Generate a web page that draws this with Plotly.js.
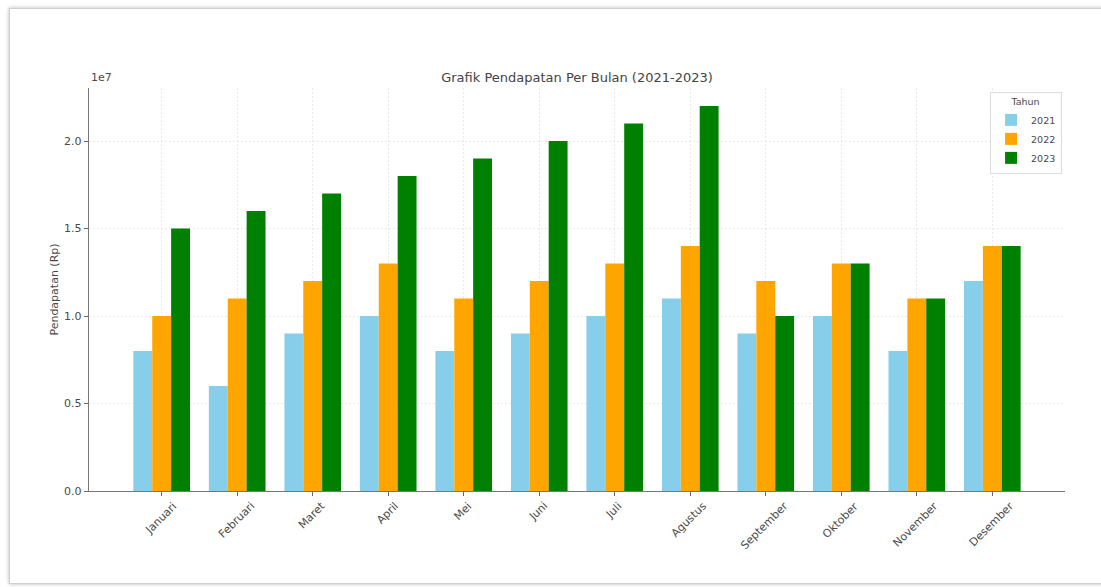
<!DOCTYPE html>
<html>
<head>
<meta charset="utf-8">
<script src="https://cdn.plot.ly/plotly-3.0.1.min.js"></script>
<style>
  html, body { margin: 0; padding: 0; background: #fff; }
  #wrap { position: relative; width: 1101px; height: 587px; overflow: hidden; }
  #chart { position: absolute; left: 0; top: 0; width: 1101px; height: 587px; }
  #frame { position: absolute; left: 9px; top: 8px; width: 1200px; height: 574px;
           border: 1px solid #cfcfcf; box-shadow: 0 0 4px rgba(0,0,0,0.28); pointer-events: none; }
</style>
</head>
<body>
<div id="wrap">
  <div id="chart"></div>
  <div id="frame"></div>
</div>
<script>
const months = ["Januari","Februari","Maret","April","Mei","Juni","Juli","Agustus","September","Oktober","November","Desember"];
const years = ["2021","2022","2023"];
const values2021 = [8e6, 6e6, 9e6, 10e6, 8e6, 9e6, 10e6, 11e6, 9e6, 10e6, 8e6, 12e6];
const values2022 = [10e6, 11e6, 12e6, 13e6, 11e6, 12e6, 13e6, 14e6, 12e6, 13e6, 11e6, 14e6];
const values2023 = [15e6, 16e6, 17e6, 18e6, 19e6, 20e6, 21e6, 22e6, 10e6, 13e6, 11e6, 14e6];
const yTickVals = [0, 5e6, 10e6, 15e6, 20e6];
const yTickText = ["0.0", "0.5", "1.0", "1.5", "2.0"];
const colors = ["#87CEEB", "#FFA500", "#008000"];

const series = [values2021, values2022, values2023];
const font = "DejaVu Sans, Verdana, sans-serif";
const txt = "#4a4a4a";

const data = series.map((vals, i) => ({
  type: "bar",
  name: years[i],
  x: months,
  y: vals,
  marker: { color: colors[i], line: { width: 0 } },
  hoverinfo: "x+y+name"
}));

const annotations = months.map(m => ({
  x: m, xref: "x", y: -6 / 403, yref: "paper",
  text: m, showarrow: false, textangle: -45,
  xanchor: "center", yanchor: "top", xshift: -1,
  font: { family: font, size: 11, color: txt }
}));

annotations.push({
  x: 0, xref: "paper", y: 1, yref: "paper", yshift: 2,
  text: "1e7", showarrow: false, xanchor: "left", yanchor: "bottom",
  font: { family: font, size: 11, color: txt }
});

const layout = {
  width: 1101, height: 587,
  margin: { l: 89, r: 36, t: 88, b: 96 },
  paper_bgcolor: "rgba(0,0,0,0)",
  plot_bgcolor: "#fff",
  font: { family: font, size: 11, color: txt },
  title: {
    text: "Grafik Pendapatan Per Bulan (2021-2023)",
    x: 0.5, xref: "paper", xanchor: "center",
    y: 1, yref: "paper", yanchor: "bottom", pad: { b: 6 },
    font: { family: font, size: 13, color: "#444" }
  },
  barmode: "group",
  bargap: 0.25,
  bargroupgap: 0,
  xaxis: {
    type: "category",
    range: [-0.9625, 11.9625],
    showticklabels: false,
    ticks: "outside", ticklen: 4, tickcolor: "#666", tickwidth: 1,
    showgrid: true, gridcolor: "#e4e4e4", griddash: "2px,2px", gridwidth: 0.8,
    showline: true, linecolor: "#777", linewidth: 1.2,
    zeroline: false, fixedrange: true
  },
  yaxis: {
    range: [0, 2.303e7],
    tickvals: yTickVals, ticktext: yTickText,
    ticks: "outside", ticklen: 4, tickcolor: "#666", tickwidth: 1,
    tickfont: { family: font, size: 11, color: txt },
    showgrid: true, gridcolor: "#e4e4e4", griddash: "2px,2px", gridwidth: 0.8,
    showline: true, linecolor: "#777", linewidth: 1.2,
    zeroline: false, fixedrange: true,
    title: { text: "Pendapatan (Rp)", standoff: 3, font: { family: font, size: 11, color: txt } }
  },
  legend: {
    x: 0.997, xanchor: "right", y: 0.99, yanchor: "top",
    bgcolor: "rgba(255,255,255,0.9)", bordercolor: "#dcdcdc", borderwidth: 1,
    font: { family: font, size: 9.5, color: txt },
    title: { text: "Tahun", side: "top center", font: { family: font, size: 9.5, color: txt } },
    tracegroupgap: 0, itemwidth: 30
  },
  annotations: annotations,
  showlegend: true
};

Plotly.newPlot("chart", data, layout, { displayModeBar: false, staticPlot: true });
</script>
</body>
</html>
